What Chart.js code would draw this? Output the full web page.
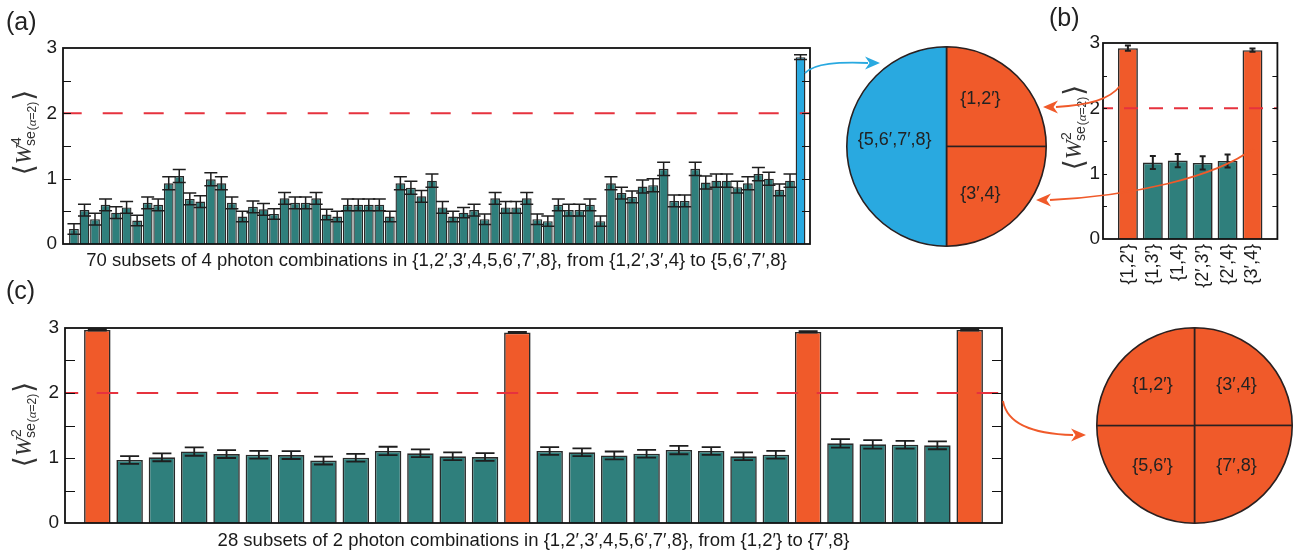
<!DOCTYPE html>
<html><head><meta charset="utf-8">
<script src="https://cdn.jsdelivr.net/npm/chart.js@4.4.1/dist/chart.umd.min.js"></script>
<style>
html,body{margin:0;padding:0;background:#fff;}
#wrap{position:relative;width:1304px;height:560px;overflow:hidden;font-family:"Liberation Sans",Arial,Helvetica,sans-serif;}
canvas{position:absolute;}
.plab{position:absolute;font-size:25px;line-height:25px;color:#222;}
</style></head>
<body><div id="wrap">
<canvas id="ca" width="840" height="280" style="left:0;top:0"></canvas>
<canvas id="pa" width="203" height="203" style="left:845px;top:45px"></canvas>
<canvas id="cb" width="244" height="300" style="left:1060px;top:0"></canvas>
<canvas id="cc" width="1030" height="260" style="left:0;top:300px"></canvas>
<canvas id="pc" width="199" height="199" style="left:1095px;top:326px"></canvas>
<canvas id="ov" width="1304" height="560" style="left:0;top:0;pointer-events:none"></canvas>
<div class="plab" style="left:6px;top:9px">(a)</div>
<div class="plab" style="left:1049px;top:5px">(b)</div>
<div class="plab" style="left:6px;top:278px">(c)</div>
</div>
<script>
// ---------------- DATA ----------------
const PHOTONS = ['1','2′','3′','4','5','6′','7′','8'];
function subsetsOf(k){
  const out=[];
  (function rec(start,cur){
    if(cur.length===k){out.push('{'+cur.join(',')+'}');return;}
    for(let i=start;i<PHOTONS.length;i++){cur.push(PHOTONS[i]);rec(i+1,cur);cur.pop();}
  })(0,[]);
  return out;
}
// panel (a): 70 subsets of 4 photons
const subsetsA = subsetsOf(4);
const valuesA = [0.23,0.52,0.38,0.60,0.48,0.56,0.36,0.63,0.60,0.93,
                 1.04,0.69,0.65,0.99,0.93,0.63,0.42,0.57,0.53,0.46,
                 0.70,0.63,0.63,0.70,0.45,0.42,0.60,0.60,0.60,0.60,
                 0.42,0.93,0.86,0.73,0.97,0.56,0.42,0.48,0.52,0.38,
                 0.70,0.56,0.56,0.70,0.38,0.35,0.60,0.52,0.52,0.60,
                 0.35,0.93,0.78,0.72,0.88,0.90,1.15,0.66,0.66,1.15,
                 0.94,0.97,0.97,0.87,0.93,1.07,1.00,0.83,0.97,2.86];
const errorsA = [0.08,0.09,0.09,0.09,0.09,0.09,0.08,0.09,0.09,0.10,
                 0.10,0.09,0.09,0.10,0.10,0.09,0.08,0.09,0.09,0.08,
                 0.09,0.09,0.09,0.09,0.08,0.08,0.09,0.09,0.09,0.09,
                 0.08,0.10,0.10,0.09,0.10,0.09,0.08,0.08,0.09,0.08,
                 0.09,0.09,0.09,0.09,0.08,0.08,0.09,0.09,0.09,0.09,
                 0.08,0.10,0.09,0.09,0.10,0.10,0.10,0.09,0.09,0.10,
                 0.10,0.10,0.10,0.09,0.10,0.10,0.10,0.09,0.10,0.035];
const highlightA = ['{5,6′,7′,8}'];

// panel (b)
const subsetsB = ['{1,2′}','{1,3′}','{1,4}','{2′,3′}','{2′,4}','{3′,4}'];
const valuesB  = [2.92,1.17,1.20,1.165,1.195,2.89];
const errorsB  = [0.04,0.10,0.10,0.10,0.10,0.025];
const highlightB = ['{1,2′}','{3′,4}'];

// panel (c): 28 subsets of 2 photons
const subsetsC = subsetsOf(2);
const valuesC = [2.97,0.97,1.01,1.10,1.06,1.05,1.045,0.96,1.005,1.108,
                 1.072,1.026,1.015,2.93,1.108,1.088,1.04,1.066,1.123,1.108,
                 1.026,1.05,2.94,1.226,1.21,1.205,1.195,2.97];
const errorsC = [0.01,0.06,0.06,0.065,0.06,0.06,0.06,0.06,0.06,0.065,
                 0.06,0.06,0.06,0.01,0.06,0.06,0.06,0.06,0.065,0.06,
                 0.06,0.06,0.01,0.065,0.065,0.06,0.06,0.01];
const highlightC = ['{1,2′}','{3′,4}','{5,6′}','{7′,8}'];

const THRESHOLD = 2;
const yTicks = [0,1,2,3];

// pies: sector shares, clockwise from 12 o'clock
const pieLabelsA = ['{1,2′}','{3′,4}','{5,6′,7′,8}'];
const pieSharesA = [1,1,2];
const pieLabelsC = ['{3′,4}','{7′,8}','{5,6′}','{1,2′}'];
const pieSharesC = [1,1,1,1];

const captionA = '70 subsets of 4 photon combinations in {1,2′,3′,4,5,6′,7′,8}, from {1,2′,3′,4} to {5,6′,7′,8}';
const captionC = '28 subsets of 2 photon combinations in {1,2′,3′,4,5,6′,7′,8}, from {1,2′} to {7′,8}';

// ---------------- STYLE ----------------
const FONT = '"Liberation Sans", Arial, Helvetica, sans-serif';
const TEAL = '#2f7f7c', ORANGE = '#f05a2a', BLUE = '#29a9e0', RED = '#e6323e', EDGE = '#2a2a2a';
Chart.defaults.font.family = FONT;
Chart.defaults.color = '#1a1a1a';

// draw the threshold line dataset on top of the bars (through its own controller)
const lineOnTop = {
  id:'lineOnTop',
  beforeDatasetDraw(chart, args){
    if (args.meta.type === 'line' && !chart.$lineTop) return false;
  },
  afterDatasetsDraw(chart){
    chart.getSortedVisibleDatasetMetas().forEach(meta=>{
      if (meta.type === 'line'){
        chart.$lineTop = true;
        meta.controller.draw();
        chart.$lineTop = false;
      }
    });
  }
};
const errPlugin = {
  id:'errbars',
  afterDatasetsDraw(chart, args, opts){
    const di = chart.data.datasets.findIndex(d=>d.type==='bar');
    const ds = chart.data.datasets[di];
    const meta = chart.getDatasetMeta(di);
    const ys = chart.scales.y, ctx = chart.ctx;
    ctx.save();
    ctx.strokeStyle = opts.color || '#1e1e1e';
    ctx.lineWidth = opts.lineWidth || 1.5;
    meta.data.forEach((el,i)=>{
      const v = ds.data[i].y, e = ds.errors[i];
      const x = el.x, y1 = ys.getPixelForValue(v+e), y2 = ys.getPixelForValue(v-e);
      const c = opts.cap;
      ctx.beginPath();
      ctx.moveTo(x,y1); ctx.lineTo(x,y2);
      ctx.moveTo(x-c,y1); ctx.lineTo(x+c,y1);
      ctx.moveTo(x-c,y2); ctx.lineTo(x+c,y2);
      ctx.stroke();
    });
    ctx.restore();
  }
};
const framePlugin = {
  id:'frame',
  afterDraw(chart, args, opts){
    const {ctx, chartArea:{left,right,top,bottom}} = chart;
    const ys = chart.scales.y;
    ctx.save();
    ctx.strokeStyle = '#111';
    ctx.lineWidth = 1.2;
    for (let v=0.5; v<3; v+=0.5){
      const py = Math.round(ys.getPixelForValue(v))+0.5;
      ctx.beginPath();
      ctx.moveTo(left,py); ctx.lineTo(left+opts.tl,py);
      ctx.moveTo(right,py); ctx.lineTo(right-opts.tr,py);
      ctx.stroke();
    }
    ctx.lineWidth = 1.8;
    ctx.strokeRect(left,top,right-left,bottom-top);
    ctx.restore();
  }
};

function barChart(id, cats, vals, errs, hl, hlColor, cfg){
  return new Chart(document.getElementById(id), {
    type:'bar',
    data:{
      datasets:[
        {type:'line', data:[{x:cfg.xmin,y:THRESHOLD},{x:cfg.xmax,y:THRESHOLD}],
         borderColor:RED, borderWidth:2, borderDash:cfg.dash, borderDashOffset:cfg.dashOff||0,
         pointRadius:0, order:0},
        {type:'bar', data:vals.map((v,i)=>({x:i,y:v})), errors:errs,
         backgroundColor:cats.map(c=>hl.includes(c)?hlColor:TEAL),
         borderColor:EDGE, borderWidth:cfg.bw, borderSkipped:'bottom',
         barPercentage:cfg.bp, categoryPercentage:1, order:1}
      ]
    },
    options:{
      responsive:false, animation:false, events:[],
      layout:{padding:cfg.pad},
      plugins:{legend:{display:false}, tooltip:{enabled:false},
        errbars:{cap:cfg.cap, lineWidth:cfg.elw}, frame:{tl:cfg.tl, tr:cfg.tr}},
      scales:{
        x:{type:'linear', min:cfg.xmin, max:cfg.xmax, offset:false,
           grid:{display:false, drawTicks:false}, border:{display:false},
           ticks:cfg.xticks,
           title:cfg.xtitle || {display:false},
           afterFit(s){ s.height = cfg.xh; }},
        y:{type:'linear', min:0, max:3, offset:false,
           grid:{display:false, drawTicks:false}, border:{display:false},
           afterBuildTicks(s){ s.ticks = yTicks.map(v=>({value:v})); },
           ticks:{padding:cfg.yp, font:{size:19, family:FONT}, color:'#1a1a1a'},
           afterFit(s){ s.width = cfg.yw; }}
      }
    },
    plugins:[lineOnTop, errPlugin, framePlugin]
  });
}

// (a)
barChart('ca', subsetsA, valuesA, errorsA, highlightA, BLUE, {
  xmin:-1.04, xmax:69.9, dash:[20,21], dashOff:1.3, bw:1.4, bp:0.93, cap:6.5, elw:1.5,
  pad:{left:0,right:30,top:48,bottom:0}, tl:8, tr:8, xh:36, yw:63, yp:6,
  xticks:{display:false, stepSize:10},
  xtitle:{display:true, text:captionA, font:{size:18.5, family:FONT}, color:'#1a1a1a', padding:{top:0,bottom:8}}
});
// (b)
barChart('cb', subsetsB, valuesB, errorsB, highlightB, ORANGE, {
  xmin:-1, xmax:6, dash:[14,11], dashOff:4, bw:1.6, bp:0.8, cap:3, elw:2,
  pad:{left:0,right:12,top:43,bottom:6}, tl:4, tr:5, xh:55, yw:43, yp:3,
  xticks:{display:true, stepSize:1, autoSkip:false, minRotation:90, maxRotation:90, padding:5,
          font:{size:18, family:FONT}, color:'#1a1a1a',
          callback:(v)=> (Number.isInteger(v) && v>=0 && v<subsetsB.length) ? subsetsB[v] : ''}
});
// (c)
barChart('cc', subsetsC, valuesC, errorsC, highlightC, ORANGE, {
  xmin:-1, xmax:28, dash:[21.5,18.5], dashOff:8.3, bw:1.6, bp:0.82, cap:9.5, elw:1.8,
  pad:{left:0,right:28,top:28,bottom:0}, tl:10, tr:10, xh:37, yw:65, yp:6,
  xticks:{display:false, stepSize:5},
  xtitle:{display:true, text:captionC, font:{size:18.5, family:FONT}, color:'#1a1a1a', padding:{top:0,bottom:8}}
});

// pies
const pieLabelPlugin = {
  id:'pielabels',
  afterDatasetsDraw(chart, args, opts){
    const meta = chart.getDatasetMeta(0), ctx = chart.ctx;
    ctx.save();
    ctx.font = '18px '+FONT; ctx.fillStyle = '#222';
    ctx.textAlign = 'center'; ctx.textBaseline = 'middle';
    meta.data.forEach((arc,i)=>{
      const mid = (arc.startAngle+arc.endAngle)/2;
      const c = Math.cos(mid), s = Math.sin(mid);
      const sx = Math.abs(c)<1e-6?0:Math.sign(c), sy = Math.abs(s)<1e-6?0:Math.sign(s);
      const r = arc.outerRadius;
      let px, py;
      if (sy===0 || sx===0){ px = arc.x + c*opts.fh*r; py = arc.y + s*opts.fh*r + opts.hy; }
      else { px = arc.x + sx*opts.fx*r; py = arc.y + sy*opts.fy*r; }
      ctx.fillText(chart.data.labels[i], px, py);
    });
    ctx.restore();
  }
};
function pieChart(id, labels, shares, colors, lab){
  return new Chart(document.getElementById(id), {
    type:'pie',
    data:{labels, datasets:[{data:shares, backgroundColor:colors, borderColor:'#2a2020', borderWidth:1.6}]},
    options:{responsive:false, animation:false, events:[], layout:{padding:1},
      plugins:{legend:{display:false}, tooltip:{enabled:false}, pielabels:lab}},
    plugins:[pieLabelPlugin]
  });
}
pieChart('pa', pieLabelsA, pieSharesA, [ORANGE,ORANGE,BLUE], {fx:0.34, fy:0.48, fh:0.52, hy:-6});
pieChart('pc', pieLabelsC, pieSharesC, [ORANGE,ORANGE,ORANGE,ORANGE], {fx:0.43, fy:0.41, fh:0.5, hy:0});

// -------- overlay: y titles + arrows --------
const ov = document.getElementById('ov').getContext('2d');
function wTitle(ctx, cx, cy, sup){
  ctx.save();
  ctx.translate(cx, cy);
  ctx.rotate(-Math.PI/2);
  ctx.fillStyle = '#333';
  ctx.textBaseline = 'alphabetic';
  ctx.textAlign = 'left';
  const fBr = '28px "DejaVu Sans"', fW = 'italic 23px "Liberation Serif"';
  const fS = '14px '+FONT, fA = '12px '+FONT, fAl = 'italic 13px "Liberation Serif"';
  const m = (f,t)=>{ctx.font=f; return ctx.measureText(t).width;};
  const wL = m(fBr,'⟨'), wW = m(fW,'W'), wSup = m(fS,sup), wSe = m(fS,'se');
  const w1 = m(fA,'('), w2 = m(fAl,'α'), w3 = m(fA,'=2)'), wR = m(fBr,'⟩');
  const total = wL + wW + Math.max(wSup,wSe) + w1+w2+w3 + wR + 2;
  let x = -total/2; const b = 7;
  ctx.font = fBr; ctx.fillText('⟨', x, b+2); x += wL;
  ctx.font = fW; ctx.fillText('W', x, b); x += wW - 1;
  ctx.font = fS; ctx.fillText(sup, x+1, b-10); ctx.fillText('se', x, b+4);
  x += Math.max(wSup,wSe) + 1;
  ctx.font = fA; ctx.fillText('(', x, b+5); x += w1;
  ctx.font = fAl; ctx.fillText('α', x, b+5); x += w2;
  ctx.font = fA; ctx.fillText('=2)', x, b+5); x += w3 + 1;
  ctx.font = fBr; ctx.fillText('⟩', x, b+2);
  ctx.restore();
}
wTitle(ov, 24, 132, '4');
wTitle(ov, 1074, 127, '2');
wTitle(ov, 24, 424, '2');

function arrow(ctx, color, p0, c1, c2, p1, tip){
  ctx.save();
  ctx.strokeStyle = color; ctx.fillStyle = color; ctx.lineWidth = 1.8;
  ctx.beginPath(); ctx.moveTo(...p0); ctx.bezierCurveTo(...c1, ...c2, ...p1); ctx.stroke();
  const ang = Math.atan2(tip[1]-p1[1], tip[0]-p1[0]);
  const L = 15, H = 6.5;
  ctx.beginPath();
  ctx.moveTo(tip[0], tip[1]);
  ctx.lineTo(tip[0]-L*Math.cos(ang)-H*Math.sin(ang), tip[1]-L*Math.sin(ang)+H*Math.cos(ang));
  ctx.lineTo(tip[0]-0.7*L*Math.cos(ang), tip[1]-0.7*L*Math.sin(ang));
  ctx.lineTo(tip[0]-L*Math.cos(ang)+H*Math.sin(ang), tip[1]-L*Math.sin(ang)-H*Math.cos(ang));
  ctx.closePath(); ctx.fill();
  ctx.restore();
}
arrow(ov, BLUE,   [805,73],  [815,63],  [838,62],  [868,63],  [880,63]);
arrow(ov, ORANGE, [1120,86], [1110,99], [1090,105],[1056,107],[1043,107]);
arrow(ov, ORANGE, [1254,148],[1215,178],[1130,196],[1050,200],[1036,200]);
arrow(ov, ORANGE, [1003,401],[1007,424],[1033,434],[1073,435],[1086,435]);
</script>
</body></html>
